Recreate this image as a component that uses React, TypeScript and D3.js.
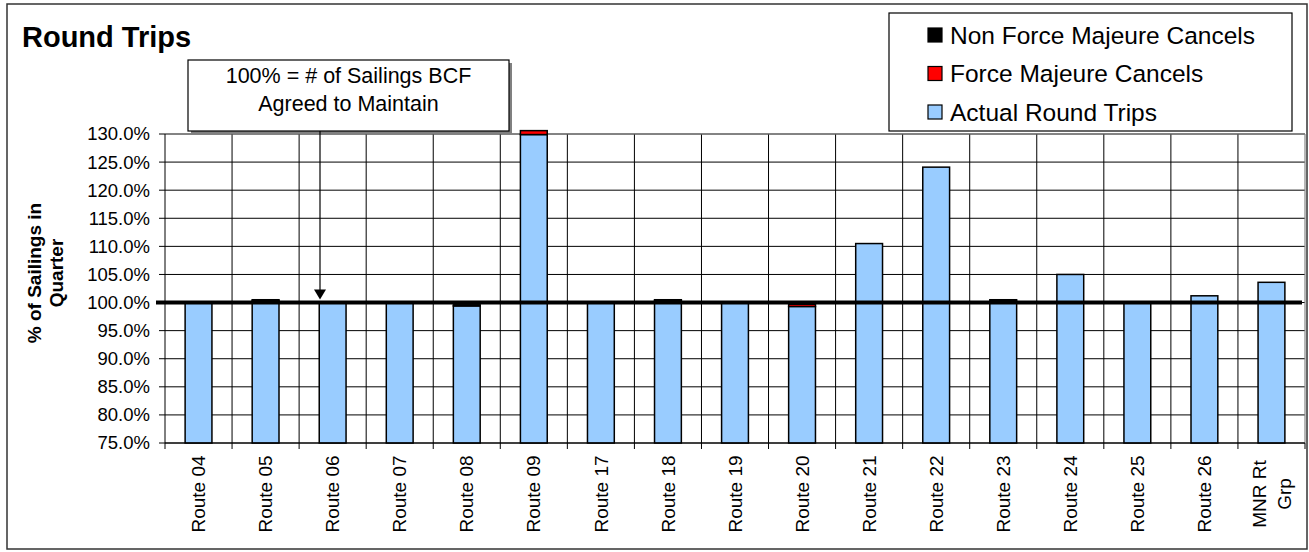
import React from "react";
import * as d3 from "d3";

const routes = ["Route 04", "Route 05", "Route 06", "Route 07", "Route 08", "Route 09", "Route 17", "Route 18", "Route 19", "Route 20", "Route 21", "Route 22", "Route 23", "Route 24", "Route 25", "Route 26", "MNR Rt Grp"];
const actualRoundTrips = [100.0, 100.3, 100.0, 100.0, 99.4, 129.9, 100.0, 100.3, 100.0, 99.3, 110.5, 124.1, 100.2, 105.0, 100.0, 101.2, 103.6];
const forceMajeureCancels = [0, 0, 0, 0, 0, 0.7, 0, 0, 0, 0.4, 0, 0, 0, 0, 0, 0, 0];
const nonForceMajeureCancels = [0, 0.2, 0, 0, 0.2, 0, 0, 0.2, 0, 0, 0, 0, 0.3, 0, 0, 0, 0];
const yTicks = [75, 80, 85, 90, 95, 100, 105, 110, 115, 120, 125, 130];
const seriesNames = ["Non Force Majeure Cancels", "Force Majeure Cancels", "Actual Round Trips"];
const seriesColors = ["#000000", "#FF0000", "#99CCFF"];

const FONT = "'Liberation Sans', Arial, sans-serif";

export default function App() {
  const W = 1309, H = 552;
  const left = 165, right = 1305, top = 134, bottom = 443;
  const x = d3.scaleBand<string>().domain(routes).range([left, right]).paddingInner(0).paddingOuter(0);
  const y = d3.scaleLinear().domain([75, 130]).range([bottom, top]);
  const bw = x.bandwidth() * 0.4;

  const stacks = routes.map((r, i) => {
    const a = actualRoundTrips[i];
    const f = forceMajeureCancels[i];
    const n = nonForceMajeureCancels[i];
    return [
      { key: "a", y0: 75, y1: a, color: seriesColors[2] },
      { key: "f", y0: a, y1: a + f, color: seriesColors[1] },
      { key: "n", y0: a + f, y1: a + f + n, color: seriesColors[0] },
    ].filter((s) => s.y1 - s.y0 > 0);
  });

  const arrowX = 320;
  const boxX = 188, boxY = 60, boxW = 321, boxH = 71;

  return (
    <div style={{ position: "absolute", left: 0, top: 0 }}>
      <svg width={W} height={H} style={{ display: "block", fontFamily: FONT }}>
        <rect x={0} y={0} width={W} height={H} fill="#fff" />
        <rect x={7} y={4} width={1300} height={545} fill="none" stroke="#333" strokeWidth={1.5} />
        <text x={22} y={47} fontSize={29} fontWeight="bold" fill="#000">Round Trips</text>

        {/* horizontal gridlines */}
        {yTicks.map((t) => (
          <line key={"h" + t} x1={left} x2={right} y1={y(t)} y2={y(t)} stroke="#000" strokeWidth={1} />
        ))}
        {/* vertical gridlines */}
        {routes.map((r, i) => (i > 0 ? (
          <line key={"v" + r} x1={x(r)!} x2={x(r)!} y1={top} y2={bottom} stroke="#000" strokeWidth={1} />
        ) : null))}
        {/* plot border top/right */}
        <line x1={left} x2={right} y1={top} y2={top} stroke="#888" strokeWidth={1.2} />
        <line x1={right} x2={right} y1={top} y2={bottom} stroke="#888" strokeWidth={1.2} />

        {/* bars */}
        {routes.map((r, i) => (
          <g key={"b" + r}>
            {stacks[i].map((s) => (
              <rect key={s.key} x={x(r)! + (x.bandwidth() - bw) / 2} width={bw}
                y={y(s.y1)} height={y(s.y0) - y(s.y1)} fill={s.color} stroke="#000" strokeWidth={1.5} />
            ))}
          </g>
        ))}

        {/* 100% line */}
        <line x1={156} x2={1302} y1={y(100)} y2={y(100)} stroke="#000" strokeWidth={4} />

        {/* axes */}
        <line x1={left} x2={left} y1={top} y2={bottom} stroke="#000" strokeWidth={1} />
        <line x1={left} x2={right} y1={bottom} y2={bottom} stroke="#000" strokeWidth={1} />
        {yTicks.map((t) => (
          <g key={"yt" + t}>
            <line x1={left - 6} x2={left} y1={y(t)} y2={y(t)} stroke="#000" />
            <text x={150} y={y(t)} dy="0.35em" textAnchor="end" fontSize={18.5} fill="#000">{t.toFixed(1) + "%"}</text>
          </g>
        ))}
        {routes.map((r) => (
          <line key={"xt" + r} x1={x(r)!} x2={x(r)!} y1={bottom} y2={bottom + 6} stroke="#000" />
        ))}
        <line x1={right} x2={right} y1={bottom} y2={bottom + 6} stroke="#000" />
        {routes.map((r) => {
          const cx = x(r)! + x.bandwidth() / 2;
          const parts = r === "MNR Rt Grp" ? ["MNR Rt", "Grp"] : [r];
          const lh = 25;
          return (
            <text key={"xl" + r} transform={`translate(${cx},458) rotate(-90)`} textAnchor="middle" fontSize={19} fill="#000">
              {parts.map((p, k) => (
                <tspan key={k} x={-36} y={(k - (parts.length - 1) / 2) * lh} dy="0.35em">{p}</tspan>
              ))}
            </text>
          );
        })}
        {/* y title */}
        <text transform="translate(45,273) rotate(-90)" textAnchor="middle" fontSize={19} fontWeight="bold" fill="#000">
          <tspan x={0} y={-11} dy="0.35em">% of Sailings in</tspan>
          <tspan x={0} y={11} dy="0.35em">Quarter</tspan>
        </text>

        {/* annotation box */}
        <rect x={boxX + 3} y={boxY + 3} width={boxW} height={boxH} fill="#808080" />
        <rect x={boxX} y={boxY} width={boxW} height={boxH} fill="#fff" stroke="#000" strokeWidth={1.2} />
        <text x={boxX + boxW / 2} y={83} textAnchor="middle" fontSize={21.5} fill="#000">100% = # of Sailings BCF</text>
        <text x={boxX + boxW / 2} y={111} textAnchor="middle" fontSize={21.5} fill="#000">Agreed to Maintain</text>
        <line x1={arrowX} x2={arrowX} y1={boxY + boxH} y2={y(100) - 12} stroke="#000" strokeWidth={1.2} />
        <path d={`M${arrowX - 6},${y(100) - 13} L${arrowX + 6},${y(100) - 13} L${arrowX},${y(100) - 3} Z`} fill="#000" />

        {/* legend */}
        <rect x={889} y={13} width={403} height={118} fill="#fff" stroke="#000" strokeWidth={1.2} />
        {seriesNames.map((n, i) => {
          const cy = 35 + i * 38.5;
          return (
            <g key={"lg" + n}>
              <rect x={928} y={cy - 7} width={14} height={14} fill={seriesColors[i]} stroke="#000" strokeWidth={1.2} />
              <text x={950} y={cy} dy="0.35em" fontSize={24.5} fill="#000">{n}</text>
            </g>
          );
        })}
      </svg>
    </div>
  );
}
